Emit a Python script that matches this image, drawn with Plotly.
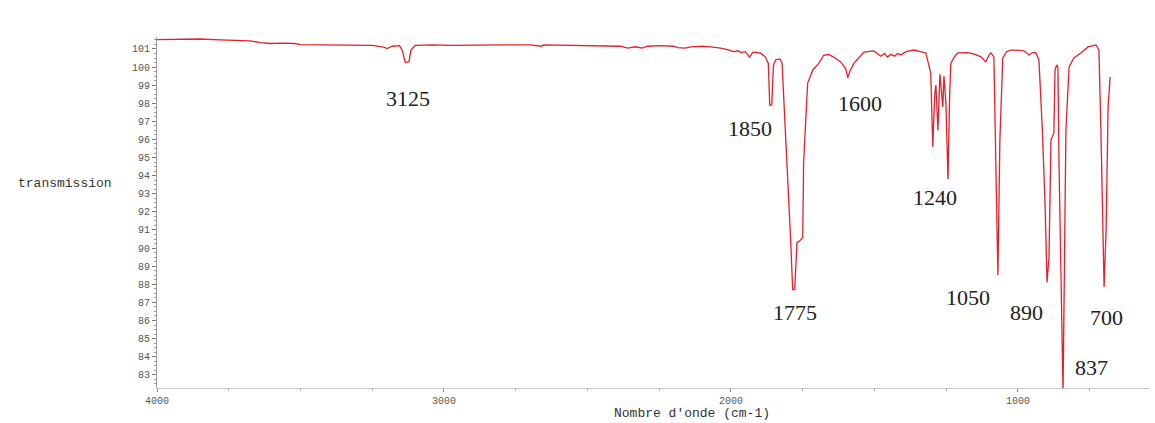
import plotly.graph_objects as go

# ---- data ----
wavenumber = [
    4000, 3900, 3850, 3780, 3720, 3676, 3640, 3606, 3560, 3520, 3501, 3420, 3327, 3250,
    3210, 3198, 3180, 3155, 3145, 3135, 3122, 3115, 3100, 3040, 2978, 2900, 2804, 2700,
    2660, 2654, 2550, 2455, 2385, 2360, 2333, 2310, 2291, 2246, 2200, 2186, 2160, 2140,
    2100, 2071, 2036, 2010, 1991, 1975, 1966, 1950, 1935, 1925, 1914, 1895, 1880, 1870,
    1865, 1858, 1852, 1844, 1830, 1822, 1810, 1792, 1785, 1778, 1770, 1760, 1750, 1747,
    1733, 1715, 1694, 1677, 1660, 1642, 1618, 1600, 1593, 1585, 1572, 1555, 1537, 1503,
    1490, 1478, 1465, 1455, 1443, 1430, 1420, 1408, 1390, 1363, 1340, 1321, 1304, 1297,
    1290, 1286, 1279, 1272, 1262, 1258, 1251, 1244, 1238, 1234, 1220, 1210, 1175, 1150,
    1129, 1112, 1100, 1094, 1084, 1078, 1070, 1063, 1053, 1040, 1025, 1000, 979, 962,
    950, 938, 927, 915, 905, 899, 892, 885, 875, 871, 865, 861, 857, 843, 833, 822,
    805, 781, 756, 728, 718, 711, 704, 700, 693, 686, 679,
]
transmission = [
    101.52, 101.52, 101.55, 101.5, 101.48, 101.45, 101.35, 101.3, 101.32, 101.3, 101.24, 101.24, 101.22, 101.2,
    101.1, 101.02, 101.15, 101.18, 100.9, 100.25, 100.3, 100.95, 101.2, 101.22, 101.2, 101.22, 101.22, 101.22,
    101.15, 101.22, 101.2, 101.2, 101.15, 101.05, 101.12, 101.05, 101.15, 101.18, 101.15, 101.07, 101.05, 101.12,
    101.15, 101.12, 101.05, 100.95, 100.85, 100.9, 100.8, 100.85, 100.55, 100.8, 100.82, 100.75, 100.55, 100.2,
    97.9, 97.9, 100.1, 100.4, 100.45, 100.2, 96.5, 90.4, 87.7, 87.7, 90.3, 90.4, 90.6, 94.7,
    99.1, 99.84, 100.2, 100.65, 100.7, 100.55, 100.28, 99.9, 99.4, 99.8, 100.2, 100.5, 100.83, 100.89,
    100.75, 100.6, 100.75, 100.55, 100.7, 100.6, 100.75, 100.67, 100.85, 100.94, 100.85, 100.78, 99.67, 95.6,
    98.5, 99.0, 96.5, 99.6, 97.8, 99.5, 98.0, 93.8, 98.5, 100.2, 100.6, 100.78, 100.8, 100.7,
    100.56, 100.28, 100.7, 100.78, 100.56, 96.0, 88.5, 96.0, 100.5, 100.85, 100.94, 100.94, 100.9, 100.67,
    100.8, 100.8, 100.39, 96.5, 92.1, 88.1, 89.5, 95.97, 96.36, 99.84, 100.12, 100.0, 94.7, 82.0, 96.5, 100.0,
    100.5, 100.78, 101.11, 101.22, 100.94, 96.5, 91.0, 87.85, 91.0, 97.8, 99.45,
]

x_tick_values = [4000, 3000, 2000, 1000]
x_tick_labels = ["4000", "3000", "2000", "1000"]
y_tick_values = list(range(83, 102))
y_tick_labels = [str(v) for v in y_tick_values]

peak_labels = ["3125", "1850", "1600", "1240", "1775", "1050", "890", "700", "837"]
# label centre positions in pixels (style only)
peak_label_px = [(408, 99), (750, 128), (860, 103), (935, 197), (795, 312),
                 (968, 297), (1026, 312), (1106, 317), (1091, 367)]

W, H = 1155, 423
L, R, T, B = 157, 1150, 37, 388


def px2paper(px, py):
    return (px - L) / (R - L), (B - py) / (B - T)


fig = go.Figure()
fig.add_trace(go.Scatter(
    x=wavenumber, y=transmission, mode="lines",
    line=dict(color="#e3202c", width=1.3),
    showlegend=False, hoverinfo="skip",
))

tick_font = dict(family="Liberation Mono", size=10, color="#555555")

fig.update_layout(
    width=W, height=H,
    margin=dict(l=L, r=W - R, t=T, b=H - B, pad=0),
    paper_bgcolor="white", plot_bgcolor="white",
    xaxis=dict(
        range=[4000, 540], showgrid=False, zeroline=False,
        showline=True, linecolor="#c8c8c8", linewidth=1,
        tickmode="array", tickvals=x_tick_values, ticktext=x_tick_labels,
        ticks="outside", ticklen=3, tickcolor="#888888", tickfont=tick_font,
        minor=dict(dtick=250, ticks="outside", ticklen=2, tickcolor="#aaaaaa"),
    ),
    yaxis=dict(
        range=[82.27, 101.66], showgrid=False, zeroline=False,
        showline=True, linecolor="#999999", linewidth=1,
        tickmode="array", tickvals=y_tick_values, ticktext=y_tick_labels,
        ticks="outside", ticklen=4, tickcolor="#777777", tickfont=tick_font,
        minor=dict(dtick=0.25, ticks="outside", ticklen=2, tickcolor="#999999"),
    ),
)

for text, (px, py) in zip(peak_labels, peak_label_px):
    ax, ay = px2paper(px, py)
    fig.add_annotation(x=ax, y=ay, xref="paper", yref="paper", text=text,
                       showarrow=False, xanchor="center", yanchor="middle",
                       font=dict(family="Liberation Serif", size=22, color="#222222"))

tx, ty = px2paper(692, 414)
fig.add_annotation(x=tx, y=ty, xref="paper", yref="paper", text="Nombre d'onde (cm-1)",
                   showarrow=False, xanchor="center", yanchor="middle",
                   font=dict(family="Liberation Mono", size=13, color="#333333"))
yx, yy = px2paper(65, 183)
fig.add_annotation(x=yx, y=yy, xref="paper", yref="paper", text="transmission",
                   showarrow=False, xanchor="center", yanchor="middle",
                   font=dict(family="Liberation Mono", size=13, color="#333333"))

fig.write_html("out.html", config={"displayModeBar": False},
               post_script="document.body.style.margin='0';")
